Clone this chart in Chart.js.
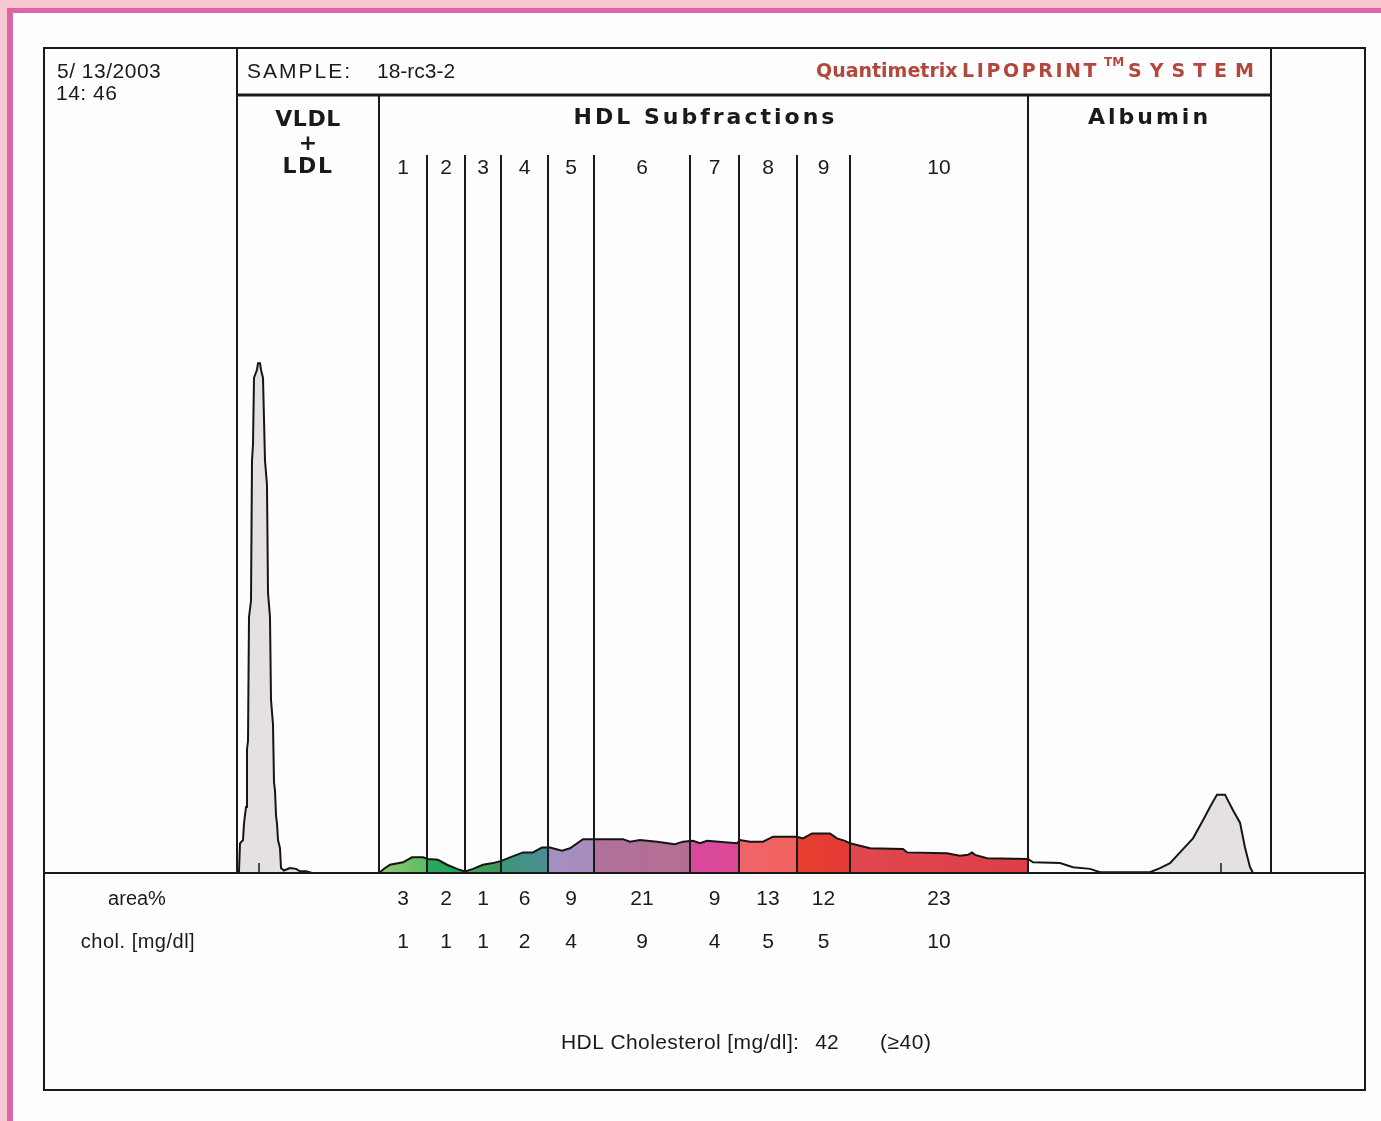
<!DOCTYPE html>
<html>
<head>
<meta charset="utf-8">
<title>Lipoprint HDL subfractions</title>
<script src="https://cdn.jsdelivr.net/npm/chart.js@4.4.0/dist/chart.umd.min.js"></script>
<style>
  html, body { margin: 0; padding: 0; }
  body { width: 1381px; height: 1121px; overflow: hidden; background: #f8c9d3; position: relative; }
  #sheet { position: absolute; left: 7px; top: 8px; width: 1400px; height: 1200px; background: #fefefe;
           border-left: 6px solid #df64a7; border-top: 5px solid #df64a7; }
  #chart_area { position: absolute; left: 0; top: 0; width: 1381px; height: 1121px; }
</style>
</head>
<body>
<div id="sheet"></div>
<div id="chart_area"><canvas id="myChart" width="1381" height="1121"></canvas></div>
<script>
// report header
const sampleDate = "5/ 13/2003";
const sampleTime = "14: 46";
const sampleId = "18-rc3-2";

// densitogram: scan position vs relative absorbance
const vldlPos = [193, 195, 196, 199, 200, 202, 203, 204, 205, 207, 208, 209, 210, 213, 214, 216, 217, 219, 220, 221, 223, 224, 226, 227, 229, 230, 231, 232, 233, 234, 236, 237, 240, 246, 252, 256, 262, 268];
const vldlAbs = [0, 0.2, 3.6, 4, 6, 8, 15, 16, 31, 33, 50, 52, 60, 61, 61.8, 61.8, 61, 60, 55, 50, 47, 34, 31, 21, 18, 11, 10, 7, 6, 4, 3, 0.6, 0.3, 0.6, 0.5, 0.2, 0.2, 0];

const hdlPos = [335, 341, 346, 359, 368, 379, 384, 394, 403, 413, 421, 429, 439, 449, 458, 466, 479, 489, 498, 506, 518, 526, 539, 550, 579, 586, 596, 613, 631, 639, 649, 656, 663, 693, 696, 706, 719, 729, 753, 759, 768, 786, 793, 801, 806, 813, 826, 859, 863, 903, 916, 924, 928, 931, 943, 984];
const hdlAbs = [0, 0.6, 1.0, 1.3, 1.9, 1.9, 1.7, 1.6, 1.0, 0.5, 0.2, 0.5, 1.0, 1.2, 1.5, 1.9, 2.5, 2.5, 3.1, 3.1, 2.7, 3.0, 4.1, 4.1, 4.1, 3.8, 4.0, 3.8, 3.5, 3.8, 3.9, 3.6, 3.9, 3.6, 4.0, 3.8, 3.8, 4.4, 4.4, 4.2, 4.8, 4.8, 4.2, 3.9, 3.6, 3.4, 3.0, 2.9, 2.5, 2.4, 2.1, 2.2, 2.5, 2.2, 1.8, 1.7];

const albPos = [989, 1016, 1029, 1046, 1056, 1106, 1116, 1126, 1136, 1149, 1159, 1166, 1173, 1181, 1189, 1196, 1201, 1206, 1209];
const albAbs = [1.3, 1.2, 0.7, 0.5, 0.1, 0.1, 0.6, 1.2, 2.5, 4.2, 6.4, 8.0, 9.5, 9.5, 7.6, 6.1, 3.1, 0.7, 0];

const peakPos = [215, 1177];

// lanes on the scan axis
const scanEnd = 1321;
const laneStart = 193;
const hdlStart = 335;
const albStart = 984;
const albPeakStart = 1100;
const laneEnd = 1227;

// HDL subfractions
const fractionNames = ["1", "2", "3", "4", "5", "6", "7", "8", "9", "10"];
const fractionBounds = [335, 383, 421, 457, 504, 550, 646, 695, 753, 806, 984];
const areaPct = [3, 2, 1, 6, 9, 21, 9, 13, 12, 23];
const cholMgdl = [1, 1, 1, 2, 4, 9, 4, 5, 5, 10];
const hdlChol = 42;
const hdlRef = "(\u226540)";

// colours
const peakGray = "#e5e1e1";
const fractionColors = [
    ["#8fcb74", "#5cbc62"], ["#2aaa60", "#1f9f5a"], ["#4aa25a", "#3a9656"], ["#3e9579", "#4a8d93"],
    ["#a58fc2", "#a98bbd"], ["#b0709a", "#b46e92"], ["#d9479f", "#dc4a94"], ["#f0646a", "#f2625e"],
    ["#e8402f", "#e23a36"], ["#e0474f", "#de3f48"]
];
const ink = "#1a1a1a";

let points = [];
vldlPos.forEach((p, i) => points.push({x: p, y: vldlAbs[i]}));
hdlPos.forEach((p, i) => points.push({x: p, y: hdlAbs[i]}));
albPos.forEach((p, i) => points.push({x: p, y: albAbs[i]}));

function fillGradient(chart) {
    const {ctx, chartArea, scales} = chart;
    if (!chartArea || !scales.x) return "rgba(0,0,0,0)";
    const w = chartArea.right - chartArea.left;
    const off = v => Math.min(1, Math.max(0, (scales.x.getPixelForValue(v) - chartArea.left) / w));
    const g = ctx.createLinearGradient(chartArea.left, 0, chartArea.right, 0);
    g.addColorStop(0, "#ffffff");
    g.addColorStop(off(laneStart), peakGray);
    g.addColorStop(off(hdlStart), peakGray);
    for (let i = 0; i < fractionColors.length; i++) {
        g.addColorStop(off(fractionBounds[i] + 0.5), fractionColors[i][0]);
        g.addColorStop(off(fractionBounds[i + 1] - 0.5), fractionColors[i][1]);
    }
    g.addColorStop(off(albStart + 0.5), "#ffffff");
    g.addColorStop(off(albPeakStart), "#ffffff");
    g.addColorStop(off(albPeakStart + 8), peakGray);
    g.addColorStop(off(laneEnd), peakGray);
    g.addColorStop(1, "#ffffff");
    return g;
}

function line(ctx, x1, y1, x2, y2, w) {
    ctx.lineWidth = w;
    ctx.beginPath();
    ctx.moveTo(x1, y1);
    ctx.lineTo(x2, y2);
    ctx.stroke();
}

function text(ctx, str, x, y, font, align, spacing, color) {
    ctx.font = font;
    ctx.textAlign = align || "left";
    ctx.letterSpacing = spacing || "0px";
    ctx.fillStyle = color || ink;
    ctx.fillText(str, x, y);
}

const reportPlugin = {
    id: "report",
    afterDatasetsDraw(chart) {
        const {ctx, chartArea: a, scales: {x}} = chart;
        const px = v => x.getPixelForValue(v);
        const boxBottom = 1090;
        const headerLine = a.top + 47;
        const fracTop = a.top + 107;
        ctx.save();
        ctx.strokeStyle = ink;

        // frame
        ctx.lineWidth = 2;
        ctx.strokeRect(a.left, a.top, a.right - a.left, boxBottom - a.top);
        line(ctx, a.left, a.bottom, a.right, a.bottom, 2);
        line(ctx, px(laneStart), a.top, px(laneStart), a.bottom, 2);
        line(ctx, px(laneEnd), a.top, px(laneEnd), a.bottom, 2);
        line(ctx, px(laneStart), headerLine, px(laneEnd), headerLine, 3);
        line(ctx, px(hdlStart), headerLine, px(hdlStart), a.bottom, 2);
        line(ctx, px(albStart), headerLine, px(albStart), a.bottom, 2);
        for (let i = 1; i < fractionBounds.length - 1; i++) {
            line(ctx, px(fractionBounds[i]), fracTop, px(fractionBounds[i]), a.bottom, 2);
        }
        peakPos.forEach(p => line(ctx, px(p), a.bottom, px(p), a.bottom - 10, 1.5));

        ctx.textBaseline = "middle";
        const small = "21px 'Liberation Sans', Arial, sans-serif";
        const heading = "bold 22px 'DejaVu Sans', sans-serif";

        // header row
        text(ctx, sampleDate, 57, a.top + 24, small, "left", "0.5px");
        text(ctx, sampleTime, 56, a.top + 46, small, "left", "0.5px");
        text(ctx, "SAMPLE:", 247, a.top + 24, small, "left", "2px");
        text(ctx, sampleId, 377, a.top + 24, small, "left", "0px");

        const brand = "#b4473b";
        const brandFont = "bold 19px 'DejaVu Sans', sans-serif";
        text(ctx, "Quantimetrix", 816, a.top + 24, brandFont, "left", "0px", brand);
        text(ctx, "LIPOPRINT", 962, a.top + 24, brandFont, "left", "2.6px", brand);
        text(ctx, "TM", 1104, a.top + 15, "bold 12px 'DejaVu Sans', sans-serif", "left", "0px", brand);
        text(ctx, "SYSTEM", 1128, a.top + 24, brandFont, "left", "8px", brand);

        // lane titles
        const vx = px((laneStart + hdlStart) / 2);
        text(ctx, "VLDL", vx, a.top + 72, heading, "center", "0.5px");
        text(ctx, "+", vx, a.top + 96, heading, "center");
        text(ctx, "LDL", vx, a.top + 119, heading, "center", "1.5px");
        text(ctx, "HDL Subfractions", px((hdlStart + albStart) / 2) + 2, a.top + 70, heading, "center", "3px");
        text(ctx, "Albumin", px((albStart + laneEnd) / 2), a.top + 70, heading, "center", "3px");

        // fraction numbers and table
        text(ctx, "area%", 137, a.bottom + 26, "20px 'Liberation Sans', Arial, sans-serif", "center", "0px");
        text(ctx, "chol. [mg/dl]", 138, a.bottom + 69, "20px 'Liberation Sans', Arial, sans-serif", "center", "0.5px");
        for (let i = 0; i < fractionNames.length; i++) {
            const cx = px((fractionBounds[i] + fractionBounds[i + 1]) / 2);
            text(ctx, fractionNames[i], cx, a.top + 120, small, "center");
            text(ctx, String(areaPct[i]), cx, a.bottom + 26, small, "center");
            text(ctx, String(cholMgdl[i]), cx, a.bottom + 69, small, "center");
        }

        text(ctx, "HDL Cholesterol [mg/dl]:", 561, a.bottom + 170, small, "left", "0.4px");
        text(ctx, String(hdlChol), 827, a.bottom + 170, small, "center");
        text(ctx, hdlRef, 880, a.bottom + 170, small, "left", "0.5px");
        ctx.restore();
    }
};

const ctx = document.getElementById("myChart").getContext("2d");
const myChart = new Chart(ctx, {
    type: "line",
    data: {
        datasets: [{
            label: "scan",
            data: points,
            borderColor: "#151515",
            borderWidth: 2,
            pointRadius: 0,
            tension: 0,
            fill: "origin",
            backgroundColor: (c) => fillGradient(c.chart)
        }]
    },
    options: {
        responsive: false,
        animation: false,
        devicePixelRatio: 1,
        layout: { padding: { left: 44, top: 48, right: 16, bottom: 248 } },
        scales: {
            x: { type: "linear", min: 0, max: scanEnd, display: false },
            y: { min: 0, max: 100, display: false }
        },
        plugins: { legend: { display: false }, tooltip: { enabled: false } }
    },
    plugins: [reportPlugin]
});
</script>
</body>
</html>
